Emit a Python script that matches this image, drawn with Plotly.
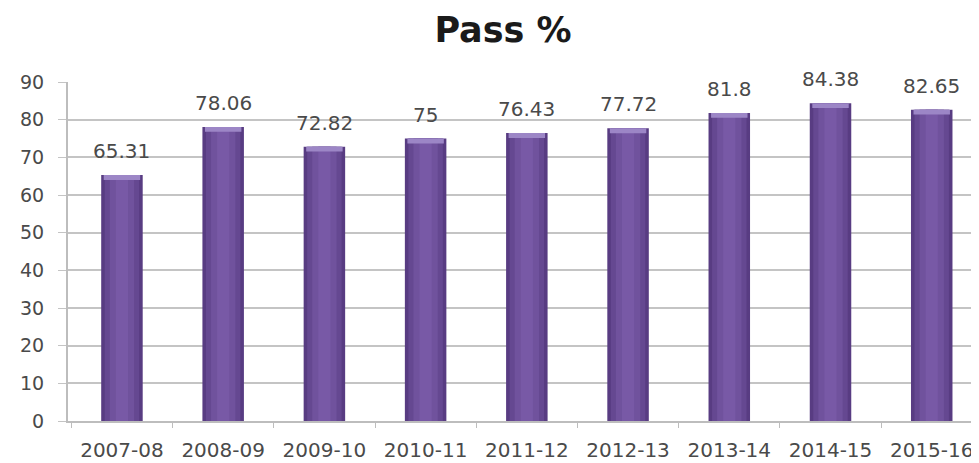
import plotly.graph_objects as go

years = ["2007-08", "2008-09", "2009-10", "2010-11", "2011-12",
         "2012-13", "2013-14", "2014-15", "2015-16"]
pass_pct = [65.31, 78.06, 72.82, 75, 76.43, 77.72, 81.8, 84.38, 82.65]
label_text = ["65.31", "78.06", "72.82", "75", "76.43", "77.72", "81.8", "84.38", "82.65"]
y_ticks = [0, 10, 20, 30, 40, 50, 60, 70, 80, 90]

fig = go.Figure()

# layered bars to imitate cylinder shading
layers = [(0.41, "#583C82"), (0.34, "#654891"), (0.24, "#70529D"), (0.12, "#7859A6")]
for w, c in layers:
    fig.add_trace(go.Bar(x=years, y=pass_pct, width=w, marker_color=c,
                         marker_line_width=0, hoverinfo="skip", showlegend=False))

# lighter lip at the top of each cylinder
cap = 1.3
fig.add_trace(go.Bar(x=years, y=[cap] * len(years), base=[v - cap for v in pass_pct],
                     width=0.36, marker_color="#9C86C6", marker_line_width=0,
                     hoverinfo="skip", showlegend=False))

for xv, yv, t in zip(years, pass_pct, label_text):
    fig.add_annotation(x=xv, y=yv, text=t, showarrow=False, yanchor="bottom",
                       yshift=10, font=dict(family="DejaVu Sans", size=20, color="#4A4A4A"))

fig.update_layout(
    width=971, height=455,
    margin=dict(l=60, r=0, t=74, b=42, autoexpand=False),
    paper_bgcolor="white", plot_bgcolor="white",
    barmode="overlay",
    title=dict(text="<b>Pass %</b>", x=495 / 971, xref="container", xanchor="center",
               y=1 - 21.5 / 455, yref="container", yanchor="middle",
               font=dict(family="DejaVu Sans", size=35, color="#1a1a1a")),
    font=dict(family="DejaVu Sans", color="#4A4A4A"),
)

fig.update_xaxes(
    type="category", categoryorder="array", categoryarray=years,
    range=[-0.533, 8.467], showgrid=False, automargin=False,
    showline=True, linecolor="#BDBDBD", linewidth=2,
    ticks="outside", tickson="boundaries", ticklen=5, tickcolor="#BDBDBD",
    tickangle=0, ticklabelstandoff=10,
    tickfont=dict(family="DejaVu Sans", size=20, color="#4A4A4A"),
)
fig.update_yaxes(
    range=[0, 90], tickvals=y_ticks, automargin=False,
    showgrid=True, gridcolor="#C4C4C4", gridwidth=2,
    showline=True, linecolor="#BDBDBD", linewidth=2,
    ticks="outside", ticklen=8, tickcolor="#C4C4C4",
    ticklabelstandoff=10,
    tickfont=dict(family="DejaVu Sans", size=19, color="#4A4A4A"),
    zeroline=False,
)

fig.write_html("out.html")
